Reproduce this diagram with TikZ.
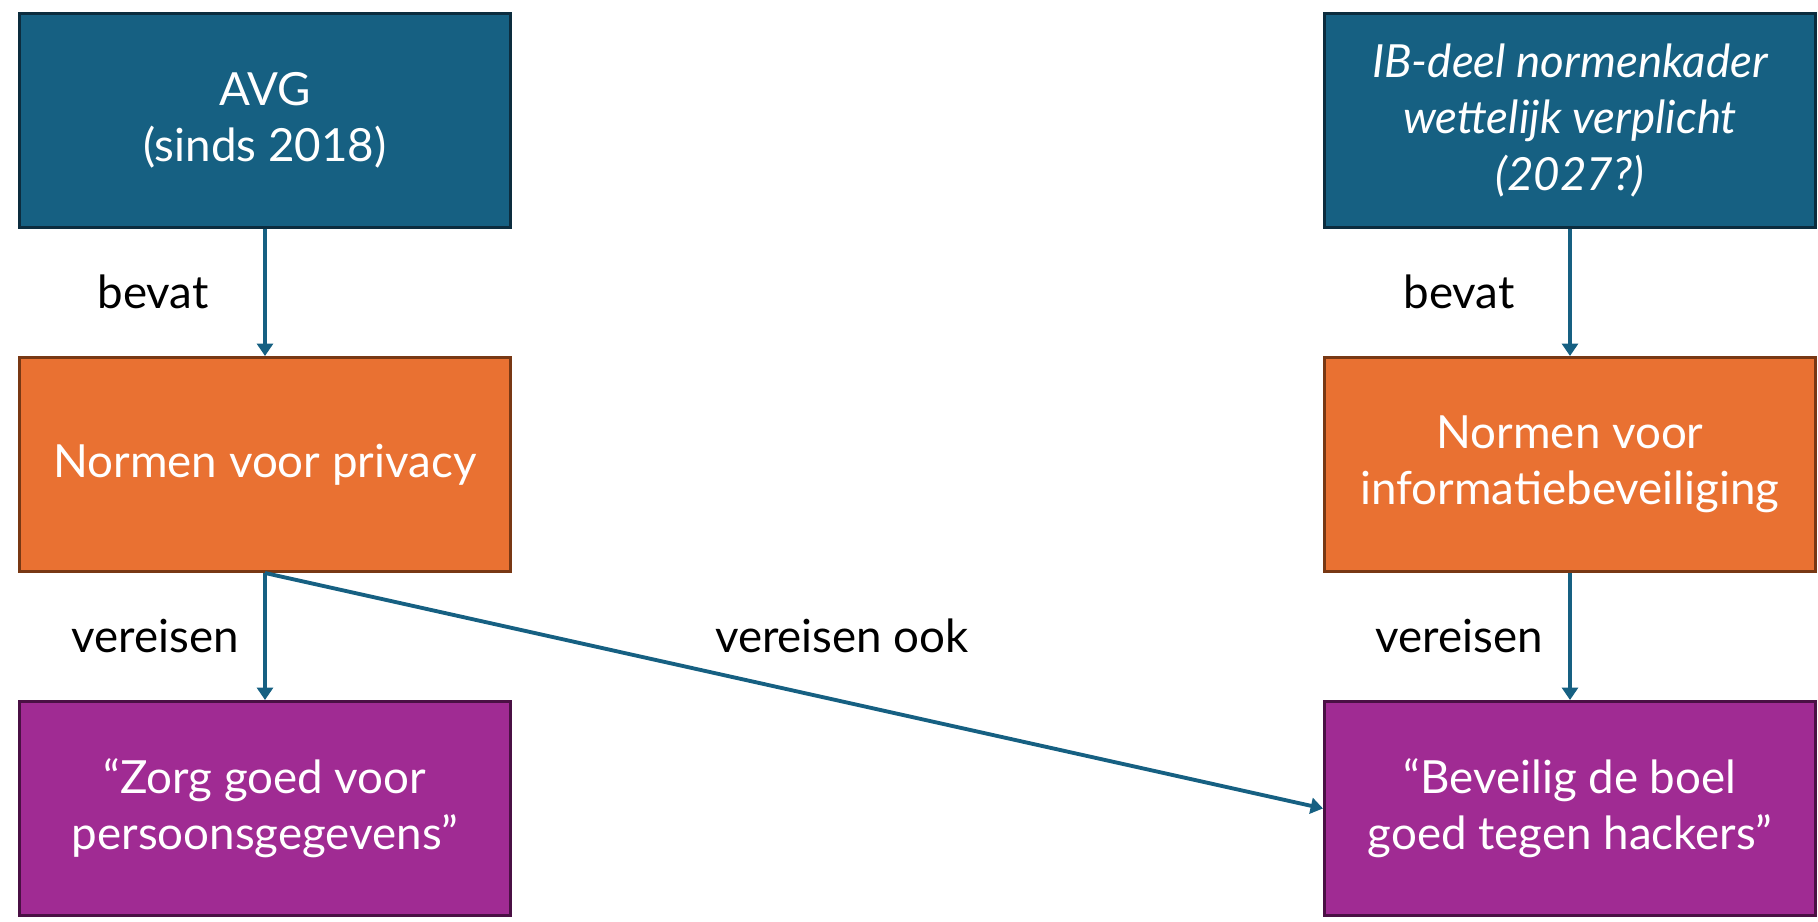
\documentclass[tikz,border=0pt]{standalone}
\usepackage{fontspec}
\setmainfont{Lato}
\usepackage{xcolor}
\usetikzlibrary{arrows.meta}
\definecolor{avgblue}{RGB}{22, 96, 130}
\definecolor{avgblueline}{RGB}{12, 44, 62}
\definecolor{normorange}{RGB}{233, 113, 50}
\definecolor{normorangeline}{RGB}{120, 56, 20}
\definecolor{eispurple}{RGB}{160, 43, 147}
\definecolor{eispurpleline}{RGB}{74, 16, 68}

\begin{document}
\begin{tikzpicture}
\tikzstyle{box} = [rectangle, minimum width=9.82cm, minimum height=4.28cm, text centered, align=center, line width=1.7pt, text=white, font=\fontsize{26}{32}\selectfont]
\tikzstyle{law} = [box, draw=avgblueline, fill=avgblue]
\tikzstyle{norm} = [box, draw=normorangeline, fill=normorange]
\tikzstyle{demand} = [box, draw=eispurpleline, fill=eispurple]
\tikzstyle{arrow} = [line width=2.2pt, draw=avgblue, -{Triangle[width=9pt,length=7pt]}]
\tikzstyle{lbl} = [font=\fontsize{26}{32}\selectfont]

\useasboundingbox (0,0) rectangle (36.36,18.44);

% Boxes
\node[law] (avg) at (5.3,16.03) {AVG\\(sinds 2018)};
\node[norm] (privacy) at (5.3,9.15) {Normen voor privacy};
\node[demand] (zorg) at (5.3,2.27) {``Zorg goed voor\\persoonsgegevens''};

\node[law] (ib) at (31.4,16.03) {\itshape IB-deel normenkader\\\itshape wettelijk verplicht\\\itshape (2027?)};
\node[norm] (infobev) at (31.4,9.15) {Normen voor\\informatiebeveiliging};
\node[demand] (hackers) at (31.4,2.27) {``Beveilig de boel\\goed tegen hackers''};

% Arrows
\draw[arrow] (avg) -- (privacy);
\draw[arrow] (privacy) -- (zorg);
\draw[arrow] (ib) -- (infobev);
\draw[arrow] (infobev) -- (hackers);
\draw[arrow] (privacy.south) -- (hackers.west);

% Labels
\node[lbl] (bevatl) at (3.06,12.6) {bevat};
\node[lbl] (vereisenl) at (3.1,5.72) {vereisen};
\node[lbl] (vereisenook) at (16.84,5.72) {vereisen ook};
\node[lbl] (bevatr) at (29.18,12.6) {bevat};
\node[lbl] (vereisenr) at (29.18,5.72) {vereisen};
\end{tikzpicture}
\end{document}
